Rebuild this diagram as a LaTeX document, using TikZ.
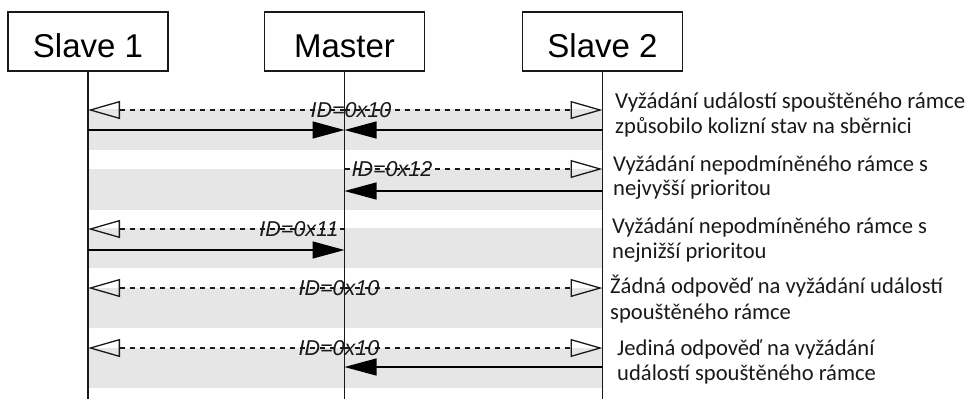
\documentclass[tikz,border=0pt]{standalone}
\usepackage{fontspec}
\setmainfont{Liberation Sans}
\newfontfamily\descfont{Carlito}
\usetikzlibrary{arrows.meta}
\definecolor{bandgray}{RGB}{230,230,230}
\definecolor{ink}{RGB}{25,25,25}
\begin{document}
\begin{tikzpicture}[x=1pt,y=-1pt,
  actor/.style={draw=ink,line width=1.3pt,minimum width=160pt,minimum height=59pt,inner sep=0pt,text height=31pt,text depth=0pt,font=\fontsize{33}{36}\selectfont},
  life/.style={draw=ink,line width=1.3pt},
  req/.style={draw=ink,line width=1.2pt,dash pattern=on 5pt off 5pt,-{Triangle[open,length=32pt,width=18pt,line width=1.3pt]}},
  resp/.style={draw=black,line width=1.3pt,-{Triangle[length=32pt,width=17pt]}},
  idlab/.style={inner sep=0pt,font=\fontsize{21.5}{24}\selectfont\itshape,text=ink},
  desc/.style={inner sep=0pt,anchor=base west,font=\descfont\fontsize{22.6}{25}\selectfont,text=ink},
  descw/.style={desc,font=\descfont\fontsize{22.9}{25}\selectfont}]
\useasboundingbox (0,0) rectangle (969,399);
% bands
\fill[bandgray] (88,109) rectangle (602,150);
\fill[bandgray] (88,169) rectangle (602,210);
\fill[bandgray] (88,228) rectangle (602,268);
\fill[bandgray] (88,288) rectangle (602,328);
\fill[bandgray] (88,348) rectangle (602,388);
% actors
\node[actor] (s1) at (88,41.5) {Slave 1};
\node[actor] (m) at (344.5,41.5) {Master};
\node[actor] (s2) at (602.5,41.5) {Slave 2};
\coordinate (s1end) at (88,399);
\coordinate (mend) at (344.5,399);
\coordinate (s2end) at (602.5,399);
\draw[life] (s1.south) -- (s1end);
\draw[life] (m.south) -- (mend);
\draw[life] (s2.south) -- (s2end);
% row coordinates
\foreach \n/\y in {1/110,2/169,3/229,4/288,5/348}{
  \coordinate (a\n) at (88,\y);
  \coordinate (b\n) at (344.5,\y);
  \coordinate (c\n) at (602.5,\y);
}
\foreach \n/\y in {1/130,2/191,3/250,5/367}{
  \coordinate (as\n) at (88,\y);
  \coordinate (bs\n) at (344.5,\y);
  \coordinate (cs\n) at (602.5,\y);
}
% row 1
\draw[req] (b1) -- (a1);
\draw[req] (b1) -- (c1);
\node[idlab] (id1) at (351,110) {ID=0x10};
\draw[resp] (as1) -- (bs1);
\draw[resp] (cs1) -- (bs1);
% row 2
\draw[req] (b2) -- (c2);
\node[idlab] (id2) at (392,169) {ID=0x12};
\draw[resp] (cs2) -- (bs2);
% row 3
\draw[req] (b3) -- (a3);
\node[idlab] (id3) at (299,229) {ID=0x11};
\draw[resp] (as3) -- (bs3);
% row 4
\draw[req] (b4) -- (a4);
\draw[req] (b4) -- (c4);
\node[idlab] (id4) at (339,288) {ID=0x10};
% row 5
\draw[req] (b5) -- (a5);
\draw[req] (b5) -- (c5);
\node[idlab] (id5) at (339,348) {ID=0x10};
\draw[resp] (cs5) -- (bs5);
% descriptions
\node[descw] (t1a) at (615,108) {Vyžádání událostí spouštěného rámce};
\node[desc] (t1b) at (615,133) {způsobilo kolizní stav na sběrnici};
\node[desc] (t2a) at (613,171) {Vyžádání nepodmíněného rámce s};
\node[desc] (t2b) at (613,195) {nejvyšší prioritou};
\node[desc] (t3a) at (612,233) {Vyžádání nepodmíněného rámce s};
\node[desc] (t3b) at (612,258) {nejnižší prioritou};
\node[desc] (t4a) at (610,293) {Žádná odpověď na vyžádání událostí};
\node[desc] (t4b) at (610,319) {spouštěného rámce};
\node[desc] (t5a) at (617,355) {Jediná odpověď na vyžádání};
\node[desc] (t5b) at (617,380) {událostí spouštěného rámce};
\end{tikzpicture}
\end{document}
